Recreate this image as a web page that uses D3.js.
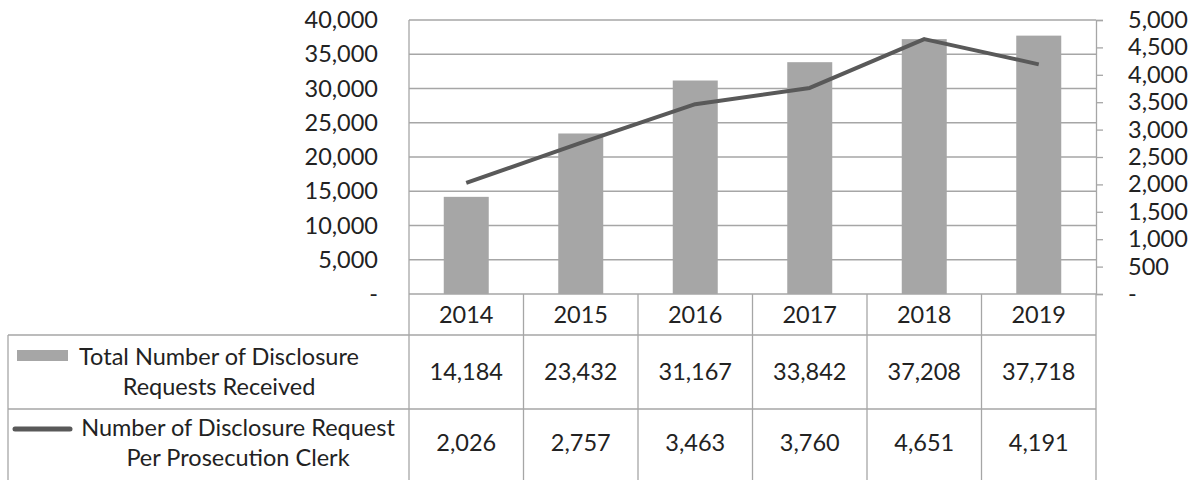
<!DOCTYPE html>
<html>
<head>
<meta charset="utf-8">
<script src="https://cdn.jsdelivr.net/npm/d3@7"></script>
<style>
  body { margin: 0; background: #fff; }
  text { font-family: Lato, "Open Sans", sans-serif; fill: #222; }
</style>
</head>
<body>
<svg id="chart" width="1200" height="480"></svg>
<script>
// data
var years = ["2014", "2015", "2016", "2017", "2018", "2019"];
var totalRequests = [14184, 23432, 31167, 33842, 37208, 37718];
var perClerk = [2026, 2757, 3463, 3760, 4651, 4191];
var leftTicks = [0, 5000, 10000, 15000, 20000, 25000, 30000, 35000, 40000];
var rightTicks = [0, 500, 1000, 1500, 2000, 2500, 3000, 3500, 4000, 4500, 5000];
var seriesNames = [
  ["Total Number of Disclosure", "Requests Received"],
  ["Number of Disclosure Request", "Per Prosecution Clerk"]
];

var svg = d3.select("#chart");
var plot = {left: 409, right: 1096, top: 20, bottom: 294};
var tableLeft = 8;
var rowY = [294, 335, 409, 476]; // header, row1, row2, bottom (cut off)
var gridColor = "#a6a6a6";
var fs = 23.5;

var fmt = function(v) { return v === 0 ? "-" : d3.format(",")(v); };

var x = d3.scaleBand().domain(years).range([plot.left, plot.right]);
var yL = d3.scaleLinear().domain([0, 40000]).range([plot.bottom, plot.top]);
var yR = d3.scaleLinear().domain([0, 5000]).range([plot.bottom, plot.top]);

// gridlines
svg.append("g").selectAll("line")
  .data(leftTicks).enter().append("line")
  .attr("x1", plot.left).attr("x2", plot.right)
  .attr("y1", function(d) { return yL(d); })
  .attr("y2", function(d) { return yL(d); })
  .attr("stroke", gridColor).attr("stroke-width", 1.3);

// left axis labels (no tick marks)
svg.append("g").selectAll("text")
  .data(leftTicks).enter().append("text")
  .attr("x", 378)
  .attr("y", function(d) { return yL(d); })
  .attr("dy", "0.35em")
  .attr("text-anchor", "end")
  .style("font-size", fs + "px")
  .text(fmt);

// right axis
var rAxis = svg.append("g")
  .attr("transform", "translate(" + plot.right + ",0)")
  .call(d3.axisRight(yR).tickValues(rightTicks).tickSize(7).tickPadding(25).tickFormat(fmt));
rAxis.select(".domain").attr("stroke", gridColor).attr("stroke-width", 1.3);
rAxis.selectAll(".tick line").attr("stroke", gridColor).attr("stroke-width", 1.3);
rAxis.selectAll(".tick text")
  .style("font-size", fs + "px")
  .style("font-family", "Lato, 'Open Sans', sans-serif")
  .attr("fill", "#222");

// bars
var barW = 45;
svg.append("g").selectAll("rect")
  .data(years).enter().append("rect")
  .attr("x", function(d) { return x(d) + x.bandwidth() / 2 - barW / 2; })
  .attr("y", function(d, i) { return yL(totalRequests[i]); })
  .attr("width", barW)
  .attr("height", function(d, i) { return plot.bottom - yL(totalRequests[i]); })
  .attr("fill", "#a6a6a6");

// line
var line = d3.line()
  .x(function(d, i) { return x(years[i]) + x.bandwidth() / 2; })
  .y(function(d) { return yR(d); });
svg.append("path")
  .datum(perClerk)
  .attr("d", line)
  .attr("fill", "none")
  .attr("stroke", "#595959")
  .attr("stroke-width", 4)
  .attr("stroke-linejoin", "round");

// data table (bottom edge is cut off by the picture)
var tblBottom = 480;
var tbl = svg.append("g").attr("stroke", gridColor).attr("stroke-width", 1.3);
// left axis line continues down through the table
tbl.append("line").attr("x1", plot.left).attr("x2", plot.left).attr("y1", plot.top).attr("y2", tblBottom);
tbl.append("line").attr("x1", plot.right).attr("x2", plot.right).attr("y1", plot.bottom).attr("y2", tblBottom);
tbl.append("line").attr("x1", tableLeft).attr("x2", tableLeft).attr("y1", rowY[1]).attr("y2", tblBottom);
tbl.selectAll(".col").data(years.slice(1)).enter().append("line")
  .attr("x1", function(d) { return x(d); }).attr("x2", function(d) { return x(d); })
  .attr("y1", plot.bottom).attr("y2", tblBottom);
tbl.selectAll(".row").data(rowY.slice(1, 3)).enter().append("line")
  .attr("x1", tableLeft).attr("x2", plot.right)
  .attr("y1", function(d) { return d; }).attr("y2", function(d) { return d; });

// header years
svg.append("g").selectAll("text")
  .data(years).enter().append("text")
  .attr("x", function(d) { return x(d) + x.bandwidth() / 2; })
  .attr("y", (rowY[0] + rowY[1]) / 2)
  .attr("dy", "0.35em")
  .attr("text-anchor", "middle")
  .style("font-size", fs + "px")
  .text(function(d) { return d; });

// value rows
[totalRequests, perClerk].forEach(function(vals, r) {
  svg.append("g").selectAll("text")
    .data(vals).enter().append("text")
    .attr("x", function(d, i) { return x(years[i]) + x.bandwidth() / 2; })
    .attr("y", (rowY[r + 1] + rowY[r + 2]) / 2)
    .attr("dy", "0.35em")
    .attr("text-anchor", "middle")
    .style("font-size", fs + "px")
    .text(function(d) { return d3.format(",")(d); });
});

// row labels with legend keys
var labelCx = [219, 238];
seriesNames.forEach(function(lines, r) {
  var cy = (rowY[r + 1] + rowY[r + 2]) / 2;
  lines.forEach(function(t, k) {
    svg.append("text")
      .attr("x", labelCx[r])
      .attr("y", cy + (k - 0.5) * 30)
      .attr("dy", "0.35em")
      .attr("text-anchor", "middle")
      .style("font-size", fs + "px")
      .text(t);
  });
});
svg.append("rect").attr("x", 17).attr("y", 350).attr("width", 51).attr("height", 11).attr("fill", "#a6a6a6");
svg.append("line").attr("x1", 15).attr("x2", 70).attr("y1", 429).attr("y2", 429)
  .attr("stroke", "#595959").attr("stroke-width", 5).attr("stroke-linecap", "round");
</script>
</body>
</html>
